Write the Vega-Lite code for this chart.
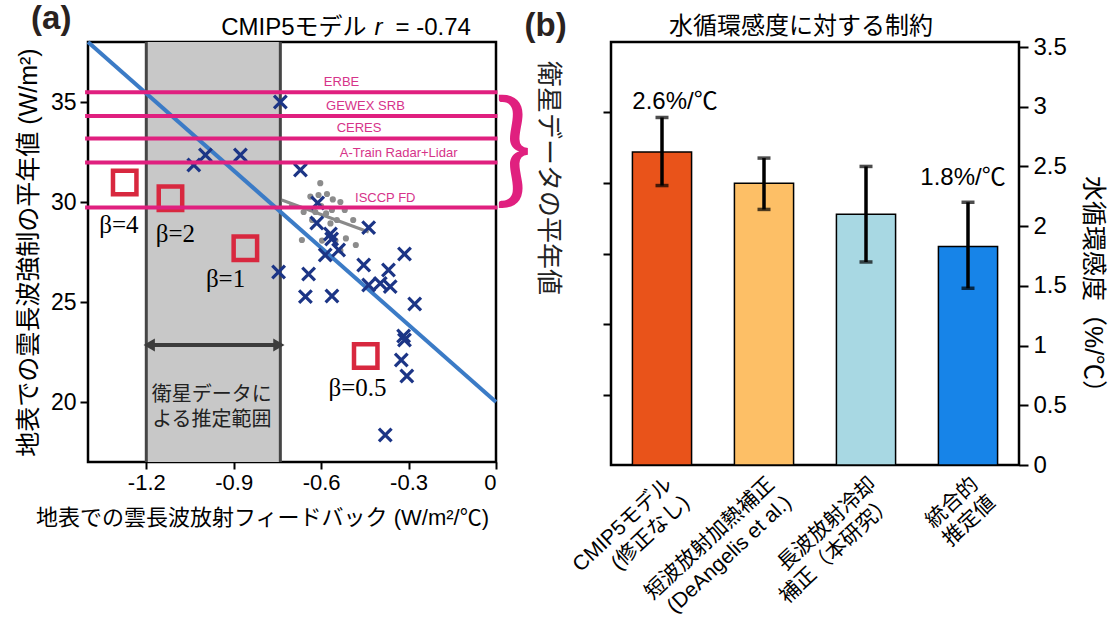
{
  "$schema": "https://vega.github.io/schema/vega-lite/v6.json",
  "background": "white",
  "padding": {"left": 15, "top": 1, "right": 5, "bottom": 5},
  "config": {
    "font": "Liberation Sans, Noto Sans CJK JP",
    "view": {"stroke": "black", "strokeWidth": 2.5},
    "axis": {"grid": false, "domain": false, "tickColor": "black", "tickWidth": 2, "labelColor": "black", "titleColor": "black", "labelFont": "Liberation Sans, Noto Sans CJK JP", "titleFont": "Liberation Sans, Noto Sans CJK JP", "titleFontWeight": "normal"}
  },
  "spacing": 115,
  "bounds": "flush",
  "hconcat": [
    {
      "width": 408,
      "height": 420,
      "encoding": {
        "x": {"field": "x", "type": "quantitative", "scale": {"domain": [-1.4, 0], "nice": false, "zero": false},
          "axis": {"values": [-1.2, -0.9, -0.6, -0.3, 0], "labelExpr": "datum.value == 0 ? '0' : '-' + format(abs(datum.value), '.1f')", "labelFontSize": 22, "tickSize": 7, "labelPadding": 3, "title": "地表での雲長波放射フィードバック (W/m²/℃)", "titleFontSize": 22, "titlePadding": 14, "titleX": 174}},
        "y": {"field": "y", "type": "quantitative", "scale": {"domain": [17, 38], "nice": false, "zero": false},
          "axis": {"values": [20, 25, 30, 35], "labelFontSize": 23, "tickSize": 8, "labelPadding": 4, "title": "地表での雲長波強制の平年値 (W/m²)", "titleFontSize": 25, "titlePadding": 9}}
      },
      "layer": [
        {"data": {"values": [{"x": -1.2, "x2": -0.74, "y": 17, "y2": 38}]}, "mark": {"type": "rect", "fill": "#c8c8c8"}, "encoding": {"x2": {"field": "x2"}, "y2": {"field": "y2"}}},
        {"data": {"values": [{"x": -1.2, "y": 17, "y2": 38}, {"x": -0.74, "y": 17, "y2": 38}]}, "mark": {"type": "rule", "color": "#454545", "strokeWidth": 3}, "encoding": {"y2": {"field": "y2"}}},
        {"data": {"values": [{"x": -1.175, "x2": -0.76, "y": 22.85}]}, "mark": {"type": "rule", "color": "#3c3c3c", "strokeWidth": 4}, "encoding": {"x2": {"field": "x2"}}},
        {"data": {"values": [{"x": -1.19, "y": 22.85, "dir": "l"}, {"x": -0.745, "y": 22.85, "dir": "r"}]}, "mark": {"type": "point", "filled": true, "color": "#3c3c3c", "size": 170, "opacity": 1},
          "encoding": {"shape": {"field": "dir", "type": "nominal", "scale": {"domain": ["l", "r"], "range": ["triangle-left", "triangle-right"]}, "legend": null}}},
        {"data": {"values": [{"x": -1.4, "y": 38}, {"x": 0, "y": 20}]}, "mark": {"type": "line", "color": "#3b7bc6", "strokeWidth": 4}},
        {"data": {"values": [{"x": -0.735, "y": 30.1}, {"x": -0.437, "y": 28.5}]}, "mark": {"type": "line", "color": "#8a8a8a", "strokeWidth": 3}},
        {"data": {"values": [
          {"x": -0.603, "y": 30.94}, {"x": -0.637, "y": 30.27}, {"x": -0.609, "y": 30.35}, {"x": -0.58, "y": 30.4}, {"x": -0.56, "y": 30.13},
          {"x": -0.534, "y": 30.0}, {"x": -0.519, "y": 29.6}, {"x": -0.546, "y": 29.1}, {"x": -0.568, "y": 28.93}, {"x": -0.583, "y": 29.43},
          {"x": -0.62, "y": 29.5}, {"x": -0.631, "y": 29.1}, {"x": -0.666, "y": 28.1}, {"x": -0.597, "y": 28.07}, {"x": -0.551, "y": 28.07},
          {"x": -0.515, "y": 28.18}, {"x": -0.481, "y": 27.85}, {"x": -0.534, "y": 27.57}, {"x": -0.66, "y": 29.5}, {"x": -0.563, "y": 29.6},
          {"x": -0.7, "y": 29.8}, {"x": -0.49, "y": 29.1}, {"x": -0.6, "y": 29.8}]},
          "mark": {"type": "circle", "color": "#8c8c8c", "size": 38, "opacity": 1}},
        {"data": {"values": [
          {"x": -0.74, "y": 35.0}, {"x": -1.037, "y": 31.85}, {"x": -0.997, "y": 32.35}, {"x": -0.877, "y": 32.35}, {"x": -0.671, "y": 31.6},
          {"x": -0.612, "y": 29.95}, {"x": -0.615, "y": 28.95}, {"x": -0.437, "y": 28.72}, {"x": -0.568, "y": 28.4}, {"x": -0.564, "y": 28.15},
          {"x": -0.586, "y": 27.35}, {"x": -0.54, "y": 27.6}, {"x": -0.314, "y": 27.4}, {"x": -0.746, "y": 26.5}, {"x": -0.643, "y": 26.4},
          {"x": -0.454, "y": 26.85}, {"x": -0.369, "y": 26.6}, {"x": -0.437, "y": 25.85}, {"x": -0.397, "y": 25.93}, {"x": -0.363, "y": 25.77},
          {"x": -0.654, "y": 25.27}, {"x": -0.563, "y": 25.3}, {"x": -0.279, "y": 24.9}, {"x": -0.317, "y": 23.3}, {"x": -0.314, "y": 23.1},
          {"x": -0.325, "y": 22.1}, {"x": -0.306, "y": 21.3}, {"x": -0.38, "y": 18.35}]},
          "mark": {"type": "point", "shape": "M-1,-1L1,1M-1,1L1,-1", "filled": false, "color": "#1c3586", "strokeWidth": 3.2, "size": 160, "opacity": 1}},
        {"data": {"values": [{"x": -1.274, "y": 30.97}, {"x": -1.117, "y": 30.19}, {"x": -0.86, "y": 27.69}, {"x": -0.447, "y": 22.3}]},
          "mark": {"type": "point", "shape": "square", "filled": false, "color": "#d8283f", "strokeWidth": 4.5, "size": 550, "opacity": 1}},
        {"data": {"values": [{"x": -1.41, "x2": 0.005, "y": 35.49}, {"x": -1.41, "x2": 0.005, "y": 34.3}, {"x": -1.41, "x2": 0.005, "y": 33.18}, {"x": -1.41, "x2": 0.005, "y": 31.98}, {"x": -1.41, "x2": 0.005, "y": 29.73}]},
          "mark": {"type": "rule", "color": "#e0207f", "strokeWidth": 4}, "encoding": {"x2": {"field": "x2"}}},
        {"data": {"values": [{"x": -0.53, "y": 36.0, "t": "ERBE"}, {"x": -0.448, "y": 34.8, "t": "GEWEX SRB"}, {"x": -0.47, "y": 33.7, "t": "CERES"}, {"x": -0.334, "y": 32.47, "t": "A-Train Radar+Lidar"}, {"x": -0.38, "y": 30.2, "t": "ISCCP FD"}]},
          "mark": {"type": "text", "color": "#d6338a", "fontSize": 13, "align": "center", "baseline": "middle"}, "encoding": {"text": {"field": "t"}}},
        {"data": {"values": [{"x": -1.294, "y": 28.85, "t": "β=4"}, {"x": -1.1, "y": 28.4, "t": "β=2"}, {"x": -0.928, "y": 26.13, "t": "β=1"}, {"x": -0.475, "y": 20.7, "t": "β=0.5"}]},
          "mark": {"type": "text", "font": "Liberation Serif", "fontSize": 25, "color": "black", "align": "center", "baseline": "middle"}, "encoding": {"text": {"field": "t"}}},
        {"data": {"values": [{"x": -0.975, "y": 20.33, "t": "衛星データに\nよる推定範囲"}]},
          "mark": {"type": "text", "fontSize": 20, "lineBreak": "\n", "lineHeight": 25, "color": "#222", "align": "center", "baseline": "middle"}, "encoding": {"text": {"field": "t"}}},
        {"data": {"values": [{"x": -0.444, "y": 38.7, "t": "CMIP5モデル"}]},
          "mark": {"type": "text", "fontSize": 24, "color": "black", "align": "right", "baseline": "middle"}, "encoding": {"text": {"field": "t"}}},
        {"data": {"values": [{"x": -0.403, "y": 38.7, "t": "r"}]},
          "mark": {"type": "text", "fontSize": 24, "fontStyle": "italic", "color": "black", "align": "center", "baseline": "middle"}, "encoding": {"text": {"field": "t"}}},
        {"data": {"values": [{"x": -0.345, "y": 38.7, "t": "= -0.74"}]},
          "mark": {"type": "text", "fontSize": 24, "color": "black", "align": "left", "baseline": "middle"}, "encoding": {"text": {"field": "t"}}},
        {"data": {"values": [{"x": -1.526, "y": 39.15, "t": "(a)"}, {"x": 0.17, "y": 38.8, "t": "(b)"}]},
          "mark": {"type": "text", "fontSize": 33, "fontWeight": "bold", "color": "#2a2220", "align": "center", "baseline": "middle"}, "encoding": {"text": {"field": "t"}}},
        {"data": {"values": [{"x": 0.06, "y": 32.45, "t": "}"}]},
          "mark": {"type": "text", "fontSize": 124, "font": "Lato", "fontWeight": 400, "color": "#e0207f", "align": "center", "baseline": "middle"}, "encoding": {"text": {"field": "t"}}},
        {"data": {"values": [{"x": 0.18, "y": 31.2, "t": "衛星データの平年値"}]},
          "mark": {"type": "text", "fontSize": 26, "angle": 90, "color": "#222", "align": "center", "baseline": "middle"}, "encoding": {"text": {"field": "t"}}}
      ]
    },
    {
      "width": 408,
      "height": 423,
      "title": {"text": "水循環感度に対する制約", "fontSize": 24, "fontWeight": "normal", "anchor": "middle", "dx": -14, "dy": 5, "offset": 1, "color": "black"},
      "layer": [
        {
          "encoding": {
            "x": {"field": "cat", "type": "nominal", "sort": null, "scale": {"paddingInner": 0.42, "paddingOuter": 0.21},
              "axis": {"title": null, "ticks": false, "labelAngle": -43, "labelAlign": "right", "labelBaseline": "top", "labelFontSize": 21, "labelPadding": 8, "labelLineHeight": 25, "labelExpr": "split(datum.label, '|')", "labelLimit": 400}}
          },
          "layer": [
            {"data": {"name": "bars"}, "mark": {"type": "bar", "stroke": "black", "strokeWidth": 1.5},
              "encoding": {
                "y": {"field": "v", "type": "quantitative", "scale": {"domain": [0, 3.542], "nice": false, "zero": true},
                  "axis": {"orient": "right", "values": [0, 0.5, 1, 1.5, 2, 2.5, 3, 3.5], "labelExpr": "format(datum.value, '~g')", "labelFontSize": 24, "tickSize": 9, "labelPadding": 5, "title": "水循環感度（%/℃）", "titleFontSize": 25, "titlePadding": 13, "titleY": 248}},
                "color": {"field": "cat", "type": "nominal", "sort": null, "scale": {"range": ["#e9531a", "#fdbf66", "#a8d8e3", "#1784e8"]}, "legend": null}
              }},
            {"data": {"name": "bars"}, "mark": {"type": "rule", "color": "black", "strokeWidth": 3.5},
              "encoding": {
                "y": {"field": "lo", "type": "quantitative", "scale": {"domain": [0, 3.542], "nice": false, "zero": true}, "axis": {"orient": "right", "title": "水循環感度（%/℃）"}},
                "y2": {"field": "hi"}
              }},
            {"data": {"name": "bars"}, "mark": {"type": "tick", "color": "black", "thickness": 3.5, "size": 13, "orient": "horizontal"},
              "encoding": {"y": {"field": "lo", "type": "quantitative", "scale": {"domain": [0, 3.542], "nice": false, "zero": true}, "axis": {"orient": "right", "title": "水循環感度（%/℃）"}}}},
            {"data": {"name": "bars"}, "mark": {"type": "tick", "color": "black", "thickness": 3.5, "size": 13, "orient": "horizontal"},
              "encoding": {"y": {"field": "hi", "type": "quantitative", "scale": {"domain": [0, 3.542], "nice": false, "zero": true}, "axis": {"orient": "right", "title": "水循環感度（%/℃）"}}}},
            {"data": {"values": [{"cat": "CMIP5モデル|(修正なし)", "v": 3.04, "t": "2.6%/℃"}]}, "mark": {"type": "text", "fontSize": 24, "dx": 13, "baseline": "middle", "color": "black"},
              "encoding": {"y": {"field": "v", "type": "quantitative", "scale": {"domain": [0, 3.542], "nice": false, "zero": true}, "axis": {"orient": "right", "title": "水循環感度（%/℃）"}}, "text": {"field": "t"}}},
            {"data": {"values": [{"cat": "統合的|推定値", "v": 2.4, "t": "1.8%/℃"}]}, "mark": {"type": "text", "fontSize": 24, "dx": -5, "baseline": "middle", "color": "black"},
              "encoding": {"y": {"field": "v", "type": "quantitative", "scale": {"domain": [0, 3.542], "nice": false, "zero": true}, "axis": {"orient": "right", "title": "水循環感度（%/℃）"}}, "text": {"field": "t"}}}
          ]
        },
        {
          "data": {"values": [{"z": 0}, {"z": 6}]},
          "mark": {"type": "point", "opacity": 0},
          "encoding": {"y": {"field": "z", "type": "quantitative", "scale": {"domain": [0, 6], "nice": false}, "axis": {"orient": "left", "values": [1, 2, 3, 4, 5], "labels": false, "title": null, "tickSize": 8}}}
        }
      ],
      "resolve": {"scale": {"y": "independent"}, "axis": {"y": "independent"}}
    }
  ],
  "datasets": {
    "bars": [
      {"cat": "CMIP5モデル|(修正なし)", "v": 2.62, "lo": 2.34, "hi": 2.91},
      {"cat": "短波放射加熱補正|(DeAngelis et al.)", "v": 2.36, "lo": 2.14, "hi": 2.57},
      {"cat": "長波放射冷却|補正（本研究）", "v": 2.10, "lo": 1.70, "hi": 2.50},
      {"cat": "統合的|推定値", "v": 1.83, "lo": 1.48, "hi": 2.20}
    ]
  }
}
